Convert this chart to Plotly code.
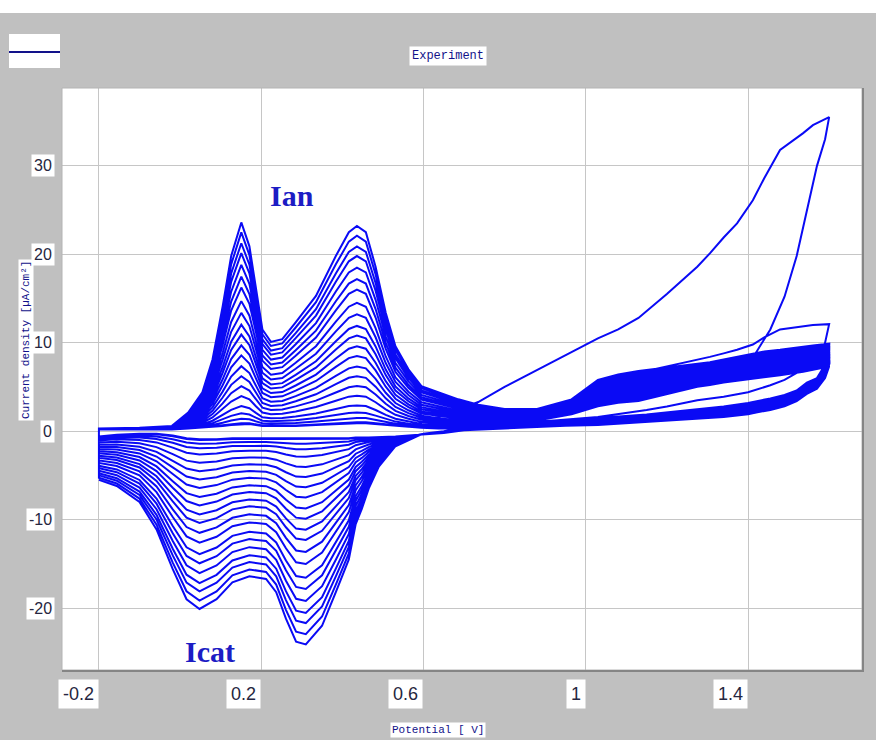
import plotly.graph_objects as go

# ---------------- data ----------------
# Low-potential anodic branch (-0.2 V -> 0.56 V)
E_an_lo = [-0.20, -0.10, -0.02, 0.02, 0.055, 0.08, 0.105, 0.126, 0.151, 0.171, 0.187, 0.203,
           0.224, 0.252, 0.285, 0.335, 0.384, 0.416, 0.436, 0.458, 0.482, 0.507, 0.531, 0.563]
I_an_lo_first = [0.2, 0.2, 0.2, 0.3, 0.4, 0.5, 0.6, 0.7, 0.8, 0.8, 0.7, 0.6,
                 0.6, 0.6, 0.6, 0.7, 0.8, 0.9, 0.9, 0.9, 0.8, 0.7, 0.6, 0.5]
I_an_lo_last = [0.3, 0.4, 0.6, 2.1, 4.4, 8.1, 14.1, 19.8, 23.6, 20.9, 16.0, 11.5,
                10.1, 10.4, 12.3, 15.3, 19.8, 22.5, 23.2, 22.5, 18.6, 13.4, 9.6, 7.0]

# High-potential anodic branch (0.6 V -> 1.6 V)
E_an_hi = [0.595, 0.637, 0.686, 0.735, 0.80, 0.88, 0.965, 1.03, 1.08, 1.13, 1.20, 1.275,
           1.306, 1.34, 1.373, 1.412, 1.44, 1.479, 1.536, 1.56, 1.60]
I_an_hi_first = [0.4, 0.3, 0.3, 0.4, 0.6, 1.2, 1.9, 2.8, 3.2, 3.4, 4.2, 5.0,
                 5.2, 5.5, 5.7, 5.9, 6.1, 6.3, 6.7, 6.9, 7.3]
I_an_hi_last = [5.1, 4.4, 3.6, 3.0, 2.5, 2.5, 3.6, 5.8, 6.4, 6.8, 7.2, 7.6,
                7.8, 8.1, 8.4, 8.7, 9.0, 9.2, 9.6, 9.7, 9.9]
I_an_hi_cycle1 = [1.0, 1.6, 2.4, 3.3, 5.0, 6.9, 9.0, 10.5, 11.5, 12.8, 15.5, 18.6,
                  20.1, 21.9, 23.5, 26.1, 28.6, 31.8, 33.7, 34.6, 35.5]
I_an_hi_cycle2 = [0.4, 0.3, 0.3, 0.4, 0.8, 1.6, 3.0, 5.0, 5.9, 6.6, 7.3, 8.1,
                  8.4, 8.8, 9.2, 9.8, 10.6, 11.5, 11.9, 12.0, 12.1]

# High-potential cathodic branch (1.6 V -> 0.6 V)
E_ca_hi = [1.60, 1.59, 1.57, 1.545, 1.52, 1.49, 1.455, 1.42, 1.40, 1.34, 1.275, 1.20,
           1.15, 1.03, 0.95, 0.88, 0.80, 0.70, 0.65, 0.60]
I_ca_hi_first = [7.3, 6.0, 4.8, 4.2, 3.4, 2.8, 2.4, 2.1, 1.9, 1.6, 1.4, 1.2,
                 1.0, 0.7, 0.6, 0.5, 0.3, 0.1, -0.2, -0.3]
I_ca_hi_last = [9.9, 7.5, 6.0, 5.5, 4.6, 4.1, 3.7, 3.4, 3.2, 2.8, 2.5, 2.2,
                1.9, 1.5, 1.3, 1.1, 0.8, 0.3, 0.0, -0.3]
I_ca_hi_cycle1 = [35.5, 33.0, 30.0, 25.0, 19.8, 15.2, 11.5, 8.9, 7.8, 6.9, 6.3, 5.6,
                  5.0, 3.5, 2.3, 1.5, 0.9, 0.4, 0.0, -0.3]
I_ca_hi_cycle2 = [12.1, 10.0, 8.2, 7.3, 6.6, 5.8, 5.2, 4.7, 4.4, 3.9, 3.5, 2.8,
                  2.4, 1.6, 1.3, 1.1, 0.8, 0.4, 0.0, -0.3]

# Low-potential cathodic branch (0.59 V -> -0.2 V)
E_ca_lo = [0.588, 0.531, 0.49, 0.465, 0.448, 0.433, 0.416, 0.384, 0.35, 0.31, 0.286, 0.261,
           0.237, 0.212, 0.171, 0.129, 0.09, 0.048, 0.016, -0.018, -0.058, -0.10, -0.156, -0.20]
I_ca_lo_first = [-0.4, -0.6, -0.7, -0.7, -0.7, -0.7, -0.8, -0.8, -0.8, -0.8, -0.8, -0.8,
                 -0.8, -0.8, -0.8, -0.8, -0.9, -0.9, -0.8, -0.5, -0.3, -0.3, -0.4, -0.6]
I_ca_lo_last = [-0.5, -1.7, -4.0, -6.5, -8.8, -10.5, -14.5, -18.2, -22.0, -24.1, -23.8, -21.2,
                -18.2, -16.7, -16.4, -17.1, -19.0, -20.1, -19.0, -15.6, -11.1, -8.0, -6.2, -5.5]

# Anodic peak (~0.44 V) height of each growth cycle, oldest first
anodic_peak_heights = [1.0, 1.5, 2.1, 2.9, 4.0, 5.1, 6.2, 7.3, 8.5, 9.6, 10.8, 11.9,
                       13.2, 14.5, 16.0, 17.2, 18.5, 19.8, 20.9, 22.1, 23.2]

x_tick_vals = [-0.2, 0.2, 0.6, 1.0, 1.4]
x_tick_text = ["-0.2", "0.2", "0.6", "1", "1.4"]
y_tick_vals = [-20, -10, 0, 10, 20, 30]
y_tick_text = ["-20", "-10", "0", "10", "20", "30"]

# ---------------- build the cycles ----------------
def blend(a, b, s):
    return [x + s * (y - x) for x, y in zip(a, b)]

E_cycle = E_an_lo + E_an_hi + E_ca_hi + E_ca_lo
xs, ys = [], []
# first two cycles (large currents at 1.6 V)
for an_hi, ca_hi in ((I_an_hi_cycle1, I_ca_hi_cycle1), (I_an_hi_cycle2, I_ca_hi_cycle2)):
    xs += E_cycle
    ys += I_an_lo_first + an_hi + ca_hi + I_ca_lo_first
# growth cycles
p_idx = E_an_lo.index(0.436)
h0, h1 = I_an_lo_first[p_idx], I_an_lo_last[p_idx]
for h in anodic_peak_heights:
    s = (h - h0) / (h1 - h0)
    xs += E_cycle
    ys += (blend(I_an_lo_first, I_an_lo_last, s) + blend(I_an_hi_first, I_an_hi_last, s)
           + blend(I_ca_hi_first, I_ca_hi_last, s) + blend(I_ca_lo_first, I_ca_lo_last, s))

fig = go.Figure()
fig.add_trace(go.Scatter(x=xs, y=ys, mode="lines",
                         line=dict(color="#0a0af5", width=2.0),
                         hoverinfo="skip", showlegend=False))

# ---------------- layout ----------------
W, H = 876, 740
L, R, T, B = 62, 14, 88, 70
pw, ph = W - L - R, H - T - B

def px_x(px):
    return (px - L) / pw

def px_y(py):
    return (H - B - py) / ph

navy = "#12128a"
mono = "Liberation Mono, DejaVu Sans Mono, monospace"
sans = "Liberation Sans, Arial, sans-serif"

annotations = []
for v, t in zip(x_tick_vals, x_tick_text):
    annotations.append(dict(x=v, y=0, xref="x", yref="paper", text=t, showarrow=False,
                            xanchor="right", yanchor="middle", yshift=-24,
                            bgcolor="white", borderpad=4,
                            font=dict(family=sans, size=18, color="#262640")))
for v, t in zip(y_tick_vals, y_tick_text):
    annotations.append(dict(x=0, y=v, xref="paper", yref="y", text=t, showarrow=False,
                            xanchor="right", yanchor="middle", xshift=-7,
                            bgcolor="white", borderpad=2,
                            font=dict(family=sans, size=16, color="#262640")))
annotations += [
    dict(x=px_x(448), y=px_y(46), xref="paper", yref="paper", text="Experiment",
         showarrow=False, bgcolor="white", borderpad=2,
         font=dict(family=mono, size=12, color=navy)),
    dict(x=px_x(18), y=px_y(340), xref="paper", yref="paper",
         text="Current density [µA/cm²]", textangle=-90, showarrow=False,
         bgcolor="white", borderpad=1, font=dict(family=mono, size=11, color=navy)),
    dict(x=px_x(438), y=px_y(730), xref="paper", yref="paper", text="Potential [ V]",
         showarrow=False, bgcolor="white", borderpad=1, yanchor="middle",
         font=dict(family=mono, size=11, color=navy)),
    dict(x=0.276, y=26.6, xref="x", yref="y", text="<b>Ian</b>", showarrow=False,
         font=dict(family="Liberation Serif, DejaVu Serif, serif", size=30, color="#1c1cc4")),
    dict(x=0.074, y=-24.9, xref="x", yref="y", text="<b>Icat</b>", showarrow=False,
         font=dict(family="Liberation Serif, DejaVu Serif, serif", size=30, color="#1c1cc4")),
]

shapes = [
    # white strip at the very top of the window
    dict(type="rect", xref="paper", yref="paper", x0=px_x(-5), x1=px_x(W + 5),
         y0=px_y(13), y1=px_y(-5), fillcolor="white", line=dict(width=0), layer="below"),
    # legend box
    dict(type="rect", xref="paper", yref="paper", x0=px_x(9), x1=px_x(60),
         y0=px_y(68), y1=px_y(34), fillcolor="white", line=dict(width=0)),
    dict(type="line", xref="paper", yref="paper", x0=px_x(9), x1=px_x(60),
         y0=px_y(52), y1=px_y(52), line=dict(color=navy, width=2)),
    # plot frame
    dict(type="rect", xref="paper", yref="paper", x0=0, x1=1, y0=0, y1=1,
         line=dict(color="#b4b4b4", width=1)),
    dict(type="line", xref="paper", yref="paper", x0=px_x(L + pw + 1), x1=px_x(L + pw + 1),
         y0=px_y(T + ph + 1), y1=px_y(T), line=dict(color="#858585", width=2)),
    dict(type="line", xref="paper", yref="paper", x0=px_x(L), x1=px_x(L + pw + 2),
         y0=px_y(T + ph + 1), y1=px_y(T + ph + 1), line=dict(color="#858585", width=2)),
]

fig.update_layout(
    width=W, height=H,
    margin=dict(l=L, r=R, t=T, b=B, pad=0),
    paper_bgcolor="#c0c0c0",
    plot_bgcolor="white",
    showlegend=False,
    xaxis=dict(range=[-0.291, 1.681], tickvals=x_tick_vals, showticklabels=False,
               ticks="", showgrid=True, gridcolor="#c6c6c6", gridwidth=1,
               zeroline=False, showline=False, fixedrange=True),
    yaxis=dict(range=[-27.0, 38.8], tickvals=y_tick_vals, showticklabels=False,
               ticks="", showgrid=True, gridcolor="#c6c6c6", gridwidth=1,
               zeroline=False, showline=False, fixedrange=True),
    annotations=annotations,
    shapes=shapes,
)

fig.write_html("out.html", config={"displayModeBar": False},
               post_script="document.body.style.margin='0';document.body.style.overflow='hidden';")
